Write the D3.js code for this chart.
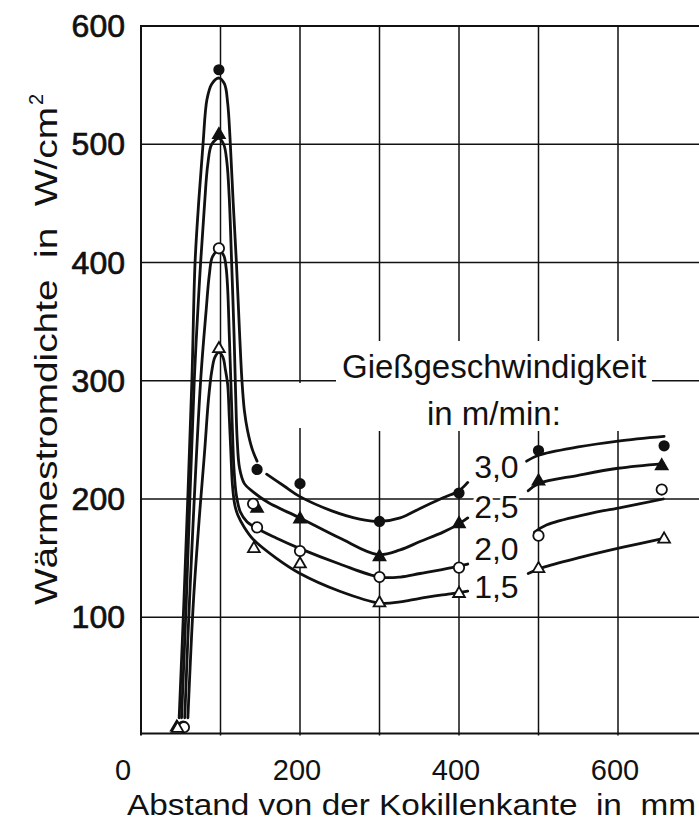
<!DOCTYPE html>
<html>
<head>
<meta charset="utf-8">
<script src="https://cdn.jsdelivr.net/npm/d3@7"></script>
<style>
  body { margin: 0; background: #fff; }
  svg { display: block; font-family: "Liberation Sans", Arial, sans-serif; }
</style>
</head>
<body>
<svg width="699" height="824"></svg>
<script>

// tick values
var xTicks = [0, 200, 400, 600]
var xGrid = [100, 200, 300, 400, 500, 600]
var yTicks = [100, 200, 300, 400, 500, 600]

// casting speed labels (m/min) and where each label sits (W/cm2)
var speeds = ["3,0", "2,5", "2,0", "1,5"]
var labelValues = [218, 184, 148, 116]

// fitted curves: [distance mm, heat flux W/cm2]
var fit30a = [[48,15],[54,114],[64,300],[68,400],[73,455],[78,500],[83,538],[89,551],[98,556],[105,551],[109,535],[112,505],[116,450],[120,400],[124,340],[127,300],[130,275],[134,258],[140,242],[146,232]]
var fit30b = [[158,221],[180,211],[200,202],[240,190],[275,183],[300,181],[326,184],[351,192],[380,201],[400,207],[411,214]]
var fit30c = [[485,232],[500,237],[550,244],[600,249],[658,253]]

var fit25a = [[51,15],[57,114],[67,300],[75,400],[80,450],[84,483],[89,500],[98,505],[104,500],[108,485],[111,455],[114,400],[117,340],[119,290],[121,250],[124,226],[130,213],[141,206],[160,197],[200,184],[250,167],[298,153],[326,157],[351,164],[380,172],[400,179],[411,184]]
var fit25c = [[487,207],[500,213],[550,220],[600,226],[657,230]]

var fit20a = [[55,15],[61,114],[75,300],[82,360],[86,390],[90,405],[98,410],[104,406],[107,396],[109,378],[111,340],[113,300],[115,258],[117,225],[120,203],[125,189],[133,181],[146,175],[170,167],[200,158],[250,145],[300,134],[326,134],[351,137],[391,142],[411,145]]
var fit20c = [[495,172],[510,178],[560,187],[605,193],[657,200]]

var fit15a = [[59,15],[66,114],[74,190],[80,240],[85,285],[89,308],[93,320],[98,324],[103,320],[106,310],[109,297],[111,270],[113,240],[115,212],[118,195],[122,186],[130,176],[141,166],[170,150],[200,137],[250,122],[300,112],[326,113],[351,116],[391,120],[411,122]]
var fit15c = [[487,137],[505,142],[555,151],[605,159],[659,167]]

// measured points
var pts30 = [[53,8],[98,563],[146,225],[200,213],[300,181],[400,205],[500,241],[658,245]]
var pts25 = [[45,7],[98,508],[146,192],[200,183],[300,151],[400,179],[500,215],[655,228]]
var pts20 = [[54,7],[98,412],[141,196],[146,176],[200,156],[300,134],[400,142],[500,169],[655,208]]
var pts15 = [[46,6],[98,327],[142,158],[200,145],[300,112],[400,120],[500,141],[658,166]]

var svg = d3.select("svg")

var x = d3.scaleLinear().domain([0, 700]).range([141, 697.5])
var y = d3.scaleLinear().domain([0, 600]).range([735.5, 26])

var ink = "#111"

// grid

svg.selectAll(".vgrid").data(xGrid).enter().append("line")
  .attr("class", "vgrid")
  .attr("x1", function(d){ return x(d); })
  .attr("x2", function(d){ return x(d); })
  .attr("y1", y(600))
  .attr("y2", y(0))
  .style("stroke", ink)
  .style("stroke-width", 1.5)

svg.selectAll(".hgrid").data(yTicks).enter().append("line")
  .attr("class", "hgrid")
  .attr("x1", x(0))
  .attr("x2", 699)
  .attr("y1", function(d){ return y(d); })
  .attr("y2", function(d){ return y(d); })
  .style("stroke", ink)
  .style("stroke-width", function(d){ return d == 600 ? 2 : 1.5; })

// blank area behind the legend heading
svg.append("rect").attr("x", 336).attr("y", 341).attr("width", 316).attr("height", 90).style("fill", "#fff")
svg.append("rect").attr("x", 294).attr("y", 383).attr("width", 12).attr("height", 45).style("fill", "#fff")

// axes

svg.append("line")
  .attr("x1", x(0)).attr("x2", x(0))
  .attr("y1", y(600) - 1).attr("y2", y(0))
  .style("stroke", ink).style("stroke-width", 2)

svg.append("line")
  .attr("x1", x(0) - 1).attr("x2", 699)
  .attr("y1", y(0) - 2).attr("y2", y(0) - 2)
  .style("stroke", ink).style("stroke-width", 2)

svg.selectAll(".ylab").data(yTicks).enter().append("text")
  .attr("class", "ylab")
  .attr("x", 125)
  .attr("y", function(d){ return y(d) + 11; })
  .attr("text-anchor", "end")
  .style("font-size", "32px")
  .style("fill", ink)
  .style("stroke", ink)
  .style("stroke-width", 0.7)
  .text(function(d){ return d; })

svg.selectAll(".xlab").data(xTicks).enter().append("text")
  .attr("class", "xlab")
  .attr("x", function(d){ return d == 0 ? x(d) - 18 : x(d) - 3; })
  .attr("y", 780)
  .attr("text-anchor", "middle")
  .style("font-size", "29px")
  .style("fill", ink)
  .text(function(d){ return d; })

svg.append("text")
  .attr("x", 127)
  .attr("y", 815)
  .attr("textLength", 569)
  .attr("lengthAdjust", "spacingAndGlyphs")
  .style("white-space", "pre")
  .style("font-size", "30px")
  .style("fill", ink)
  .text("Abstand von der Kokillenkante  in  mm")

svg.append("text")
  .attr("transform", "translate(57,605) rotate(-90)")
  .attr("textLength", 498)
  .attr("lengthAdjust", "spacingAndGlyphs")
  .style("white-space", "pre")
  .style("font-size", "31px")
  .style("fill", ink)
  .text("Wärmestromdichte  in  W/cm")

svg.append("text")
  .attr("transform", "translate(43,105) rotate(-90)")
  .style("font-size", "20px")
  .style("fill", ink)
  .text("2")

// curves

var line = d3.line()
  .x(function(d){ return x(d[0]); })
  .y(function(d){ return y(d[1]); })
  .curve(d3.curveCatmullRom.alpha(0.5))

var fits = [fit30a, fit30b, fit30c, fit25a, fit25c, fit20a, fit20c, fit15a, fit15c]

svg.selectAll(".fit").data(fits).enter().append("path")
  .attr("class", "fit")
  .attr("d", line)
  .style("fill", "none")
  .style("stroke", ink)
  .style("stroke-width", 2.8)
  .style("stroke-linecap", "round")

// markers: filled circle 3,0 / filled triangle 2,5 / open circle 2,0 / open triangle 1,5

var series = [
  {pts: pts30, shape: d3.symbolCircle, size: 70, fill: ink},
  {pts: pts25, shape: d3.symbolTriangle, size: 60, fill: ink},
  {pts: pts20, shape: d3.symbolCircle, size: 85, fill: "#fff"},
  {pts: pts15, shape: d3.symbolTriangle, size: 60, fill: "#fff"}
]

series.forEach(function(s){
  svg.append("g").selectAll("path").data(s.pts).enter().append("path")
    .attr("transform", function(d){ return "translate(" + x(d[0]) + "," + y(d[1]) + ")"; })
    .attr("d", d3.symbol().type(s.shape).size(s.size))
    .style("fill", s.fill)
    .style("stroke", ink)
    .style("stroke-width", 1.8)
})

// speed labels between the curve pieces

svg.selectAll(".speed").data(speeds).enter().append("text")
  .attr("class", "speed")
  .attr("x", x(475))
  .attr("y", function(d, i){ return y(labelValues[i]); })
  .attr("text-anchor", "end")
  .style("font-size", "32px")
  .style("fill", ink)
  .style("stroke", "#fff")
  .style("stroke-width", 6)
  .style("paint-order", "stroke")
  .text(function(d){ return d; })

svg.append("text")
  .attr("x", 342)
  .attr("y", 378)
  .style("font-size", "33px")
  .style("fill", ink)
  .text("Gießgeschwindigkeit")

svg.append("text")
  .attr("x", 427)
  .attr("y", 425)
  .style("font-size", "33px")
  .style("fill", ink)
  .text("in m/min:")

</script>
</body>
</html>
